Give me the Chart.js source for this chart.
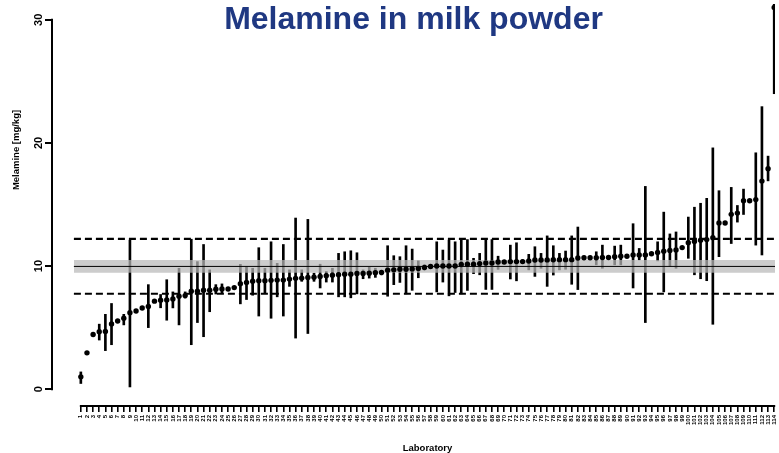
<!DOCTYPE html>
<html><head><meta charset="utf-8">
<script src="https://cdn.jsdelivr.net/npm/chart.js@4.4.1/dist/chart.umd.min.js"></script>
<style>html,body{margin:0;padding:0;background:#fff;}canvas{display:block;}</style>
</head><body>
<canvas id="c" width="779" height="453"></canvas>
<script>
// ---------- data ----------
const mainTitle = "Melamine in milk powder";
const yTitle = "Melamine [mg/kg]";
const xTitle = "Laboratory";
const labs = ["1","2","3","4","5","6","7","8","9","10","11","12","13","14","15","16","17","18","19","20",
"21","22","23","24","25","26","27","28","29","30","31","32","33","34","35","36","37","38","39","40",
"41","42","43","44","45","46","47","48","49","50","51","52","53","54","55","56","57","58","59","60",
"61","62","63","64","65","66","67","68","69","70","71","72","73","74","75","76","77","78","79","80",
"81","82","83","84","85","86","87","88","89","90","91","92","93","94","95","96","97","98","99","100",
"101","102","103","104","105","106","107","108","109","110","111","112","113","114"];
const values = [1.0,2.95,4.44,4.66,4.68,5.3,5.54,5.76,6.21,6.35,6.59,6.72,7.15,7.23,7.25,7.33,7.55,7.6,7.95,7.95,8.03,8.03,8.11,8.14,8.14,8.25,8.57,8.67,
8.76,8.81,8.81,8.84,8.86,8.86,8.94,9.0,9.02,9.08,9.10,9.16,9.21,9.26,9.29,9.34,9.34,9.40,9.40,9.42,9.46,9.48,9.66,9.69,9.74,9.74,9.77,9.8,
9.88,9.96,10.01,10.01,10.01,10.01,10.12,10.15,10.15,10.2,10.25,10.25,10.33,10.33,10.36,10.36,10.36,10.41,10.49,10.49,10.5,10.51,10.52,10.52,10.52,10.66,10.67,10.68,10.68,
10.7,10.7,10.75,10.8,10.8,10.9,10.9,10.9,11.0,11.1,11.2,11.27,11.3,11.5,11.9,12.0,12.1,12.15,12.3,13.5,13.5,14.2,14.3,15.3,15.3,15.4,16.9,17.9,31.0];
const lower = [0.46,2.95,4.44,3.99,3.13,3.61,5.54,5.22,0.18,6.35,6.59,5.0,7.15,6.61,5.6,6.6,5.22,7.4,3.61,5.41,4.26,6.29,7.73,7.8,8.14,8.25,6.93,7.28,
7.63,5.94,7.82,5.76,7.5,5.94,8.35,4.15,8.76,4.52,8.76,8.22,8.7,8.7,7.5,7.5,7.42,7.74,8.97,9.02,9.08,9.29,7.55,8.49,8.67,7.74,8.03,9.05,
9.69,9.85,7.9,8.7,7.58,7.85,7.74,8.02,9.38,9.29,8.1,8.1,9.73,10.2,8.95,8.8,10.25,9.69,9.16,9.82,8.35,9.27,9.69,9.74,8.52,8.09,10.55,10.55,10.1,
9.82,10.6,10.1,10.1,10.7,8.22,10.5,5.41,10.9,10.42,7.9,9.96,9.82,11.4,10.63,9.29,8.97,8.81,5.27,10.76,13.4,11.83,13.57,14.19,15.2,11.7,10.9,16.92,24.0];
const upper = [1.4,2.95,4.44,5.28,6.08,6.96,5.54,6.08,12.1,6.35,6.59,8.49,7.15,7.69,8.89,7.9,9.82,7.9,12.18,10.36,11.75,9.69,8.49,8.55,8.14,8.25,10.14,9.96,
9.82,11.49,9.82,11.97,10.22,11.75,9.69,13.9,9.69,13.79,9.42,10.15,9.56,9.82,11.03,11.16,11.24,11.08,9.69,9.91,9.82,9.64,11.65,10.84,10.76,11.65,11.38,10.42,
10.1,10.08,11.97,11.3,12.1,11.97,12.23,12.15,10.63,11.03,12.15,12.15,10.8,10.45,11.7,11.89,10.5,10.95,11.57,11.03,12.45,11.65,11.03,11.22,12.45,13.17,10.8,10.8,11.16,
11.7,10.8,11.62,11.7,10.9,13.44,11.43,16.47,11.1,11.97,14.38,12.61,12.77,11.6,13.98,14.78,15.1,15.5,19.6,16.12,13.6,16.39,14.92,16.25,15.4,19.2,22.95,18.93,38.0];
const yTicks = [0, 10, 20, 30];
const assignedValue = 9.97;
const bandRange = [9.45, 10.5];
const limitRange = [7.75, 12.2];
const refLineX = [-1.13, 120];

// ---------- chart ----------
const FONT = '"Liberation Sans", Arial, Helvetica, sans-serif';
Chart.defaults.font.family = FONT;
Chart.defaults.color = '#000';

const hLine = (y) => refLineX.map(x => ({x, y}));

const decor = {
  id: 'decor',
  afterDraw(chart) {
    const {ctx, chartArea, scales: {x, y}} = chart;
    ctx.save();
    ctx.strokeStyle = '#000';
    ctx.lineWidth = 2;
    ctx.beginPath();
    ctx.moveTo(y.right, y.getPixelForValue(yTicks[0]) + 1);
    ctx.lineTo(y.right, y.getPixelForValue(yTicks[yTicks.length - 1]) - 1);
    ctx.stroke();
    ctx.beginPath();
    ctx.moveTo(x.getPixelForValue(0) - 1, x.top + 1);
    ctx.lineTo(x.getPixelForValue(labs.length - 1) + 1, x.top + 1);
    ctx.stroke();

    ctx.fillStyle = '#1f3882';
    ctx.font = 'bold 32px ' + FONT;
    ctx.textAlign = 'center';
    ctx.textBaseline = 'alphabetic';
    ctx.fillText(mainTitle, (chartArea.left + chartArea.right) / 2, 29);

    ctx.fillStyle = '#000';
    ctx.font = 'bold 9.5px ' + FONT;
    ctx.fillText(xTitle, (x.getPixelForValue(0) + x.getPixelForValue(labs.length - 1)) / 2, 451);

    ctx.translate(19, 150);
    ctx.rotate(-Math.PI / 2);
    ctx.fillText(yTitle, 0, 0);
    ctx.restore();
  }
};

new Chart(document.getElementById('c'), {
  type: 'scatter',
  data: {
    datasets: [
      { type: 'scatter', label: 'Mean', order: 0,
        data: values.map((v, i) => ({x: i, y: v})),
        pointRadius: 2.7, pointBackgroundColor: '#000', pointBorderWidth: 0, pointBorderColor: '#000' },
      { type: 'line', label: 'Assigned', order: 1, data: hLine(assignedValue),
        borderColor: '#000', borderWidth: 1, pointRadius: 0, fill: false },
      { type: 'line', label: 'BandHigh', order: 2, data: hLine(bandRange[1]),
        borderWidth: 0, borderColor: 'rgba(0,0,0,0)', pointRadius: 0,
        fill: '+1', backgroundColor: 'rgba(185,185,185,0.72)' },
      { type: 'line', label: 'BandLow', order: 3, data: hLine(bandRange[0]),
        borderWidth: 0, borderColor: 'rgba(0,0,0,0)', pointRadius: 0, fill: false },
      { type: 'line', label: 'LimitHigh', order: 4, data: hLine(limitRange[1]),
        borderColor: '#000', borderWidth: 2.2, borderDash: [7, 4], pointRadius: 0, fill: false },
      { type: 'line', label: 'LimitLow', order: 4, data: hLine(limitRange[0]),
        borderColor: '#000', borderWidth: 2.2, borderDash: [7, 4], pointRadius: 0, fill: false },
      { type: 'bar', label: 'Uncertainty', order: 5,
        data: values.map((v, i) => ({x: i, y: [lower[i], upper[i]]})),
        backgroundColor: '#000', borderWidth: 0, barThickness: 2 }
    ]
  },
  options: {
    responsive: false,
    animation: false,
    devicePixelRatio: 1,
    events: [],
    layout: { padding: 0 },
    plugins: { legend: { display: false }, tooltip: { enabled: false }, title: { display: false } },
    scales: {
      x: {
        type: 'linear', min: -4.70, max: 113.13, offset: false,
        afterBuildTicks: s => { s.ticks = labs.map((_, i) => ({value: i})); },
        afterFit: s => { s.height = 48; s.paddingLeft = 0; s.paddingRight = 0; },
        border: { display: false },
        grid: { display: true, drawOnChartArea: false, drawTicks: true, tickLength: 7, color: '#000', lineWidth: 1.6, offset: false },
        ticks: { autoSkip: false, minRotation: 90, maxRotation: 90, padding: 3,
                 font: { size: 6, weight: 'bold' }, callback: (v) => labs[v] }
      },
      y: {
        type: 'linear', min: -1.287, max: 31.287,
        afterBuildTicks: s => { s.ticks = yTicks.map(v => ({value: v})); },
        afterFit: s => { s.width = 52; s.paddingTop = 0; s.paddingBottom = 0; },
        border: { display: false },
        grid: { display: true, drawOnChartArea: false, drawTicks: true, tickLength: 7, color: '#000', lineWidth: 2 },
        ticks: { minRotation: 90, maxRotation: 90, crossAlign: 'center', padding: 0,
                 font: { size: 11, weight: 'bold' } }
      }
    }
  },
  plugins: [decor]
});
</script>
</body></html>
